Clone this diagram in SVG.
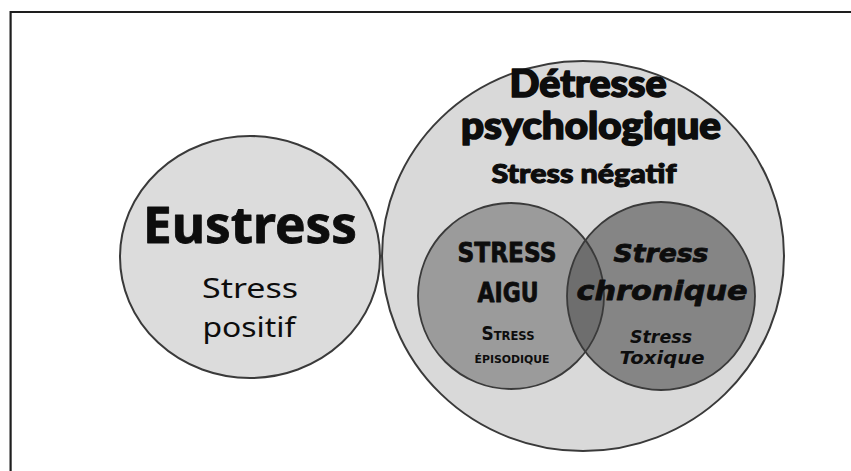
<svg xmlns="http://www.w3.org/2000/svg" width="851" height="471" viewBox="0 0 851 471">
  <style>
    .frame { stroke: #1e1e1e; stroke-width: 2.2; fill: none; }
    .outline { stroke: #3a3a3a; stroke-width: 2; }
    .thin { stroke: #3a3a3a; stroke-width: 1.8; fill: none; }
    text { fill: #0d0d0d; text-anchor: middle; }
    .comic { font-family: "Noto Sans", "DejaVu Sans", sans-serif; }
    .heavy { font-family: Lato, Roboto, "DejaVu Sans", sans-serif; font-weight: 900; stroke: #0d0d0d; stroke-width: 1.6; stroke-linejoin: round; }
    .bolder { stroke: #0d0d0d; stroke-width: 0.8; stroke-linejoin: round; }
    .caps { font-family: "DejaVu Sans", "Noto Sans", sans-serif; font-weight: bold; }
    .ital { font-family: "DejaVu Sans", "Noto Sans", sans-serif; font-weight: bold; font-style: italic; }
  </style>
  <defs>
    <clipPath id="clipLeft">
      <circle cx="511" cy="296" r="93"/>
    </clipPath>
  </defs>

  <rect width="851" height="471" fill="#ffffff"/>
  <g id="frame">
    <path class="frame" d="M10.6 471 V12 H851"/>
  </g>

  <g id="eustress">
    <ellipse class="outline" cx="250" cy="257" rx="130" ry="121" fill="#dcdcdc"/>
    <text class="comic bolder" x="250" y="243" font-size="50" font-weight="bold" textLength="214" lengthAdjust="spacingAndGlyphs">Eustress</text>
    <text class="comic" x="250" y="298" font-size="28" textLength="96" lengthAdjust="spacingAndGlyphs">Stress</text>
    <text class="comic" x="249" y="337" font-size="28" textLength="93" lengthAdjust="spacingAndGlyphs">positif</text>
  </g>

  <g id="detresse">
    <ellipse class="outline" cx="583" cy="256" rx="201" ry="195" fill="#d9d9d9"/>
    <text class="heavy" x="588" y="97" font-size="37" textLength="157" lengthAdjust="spacingAndGlyphs">Détresse</text>
    <text class="heavy" x="591" y="139" font-size="37" textLength="260" lengthAdjust="spacingAndGlyphs">psychologique</text>
    <text class="heavy" x="584" y="183" font-size="27" style="stroke-width:1.1" textLength="185" lengthAdjust="spacingAndGlyphs">Stress négatif</text>
  </g>

  <g id="stress-aigu">
    <circle cx="511" cy="296" r="93" fill="#9b9b9b"/>
  </g>
  <g id="stress-chronique">
    <circle cx="661" cy="296" r="94" fill="#858585"/>
    <circle cx="661" cy="296" r="94" fill="#6e6e6e" clip-path="url(#clipLeft)"/>
  </g>
  <g id="outlines">
    <circle class="thin" cx="511" cy="296" r="93"/>
    <circle class="thin" cx="661" cy="296" r="94"/>
  </g>

  <g id="stress-aigu-labels">
    <text class="caps bolder" x="507" y="262" font-size="26" textLength="99" lengthAdjust="spacingAndGlyphs">STRESS</text>
    <text class="caps bolder" x="508" y="302" font-size="26" textLength="61" lengthAdjust="spacingAndGlyphs">AIGU</text>
    <text class="caps" x="508" y="340" font-size="19" font-variant="small-caps" textLength="53" lengthAdjust="spacingAndGlyphs">Stress</text>
    <text class="caps" x="512" y="363" font-size="16" font-variant="small-caps" textLength="75" lengthAdjust="spacingAndGlyphs">épisodique</text>
  </g>

  <g id="stress-chronique-labels">
    <text class="ital bolder" x="661" y="262" font-size="25" textLength="95" lengthAdjust="spacingAndGlyphs">Stress</text>
    <text class="ital bolder" x="662" y="300" font-size="27" textLength="171" lengthAdjust="spacingAndGlyphs">chronique</text>
    <text class="ital" x="661" y="343" font-size="17" textLength="62" lengthAdjust="spacingAndGlyphs">Stress</text>
    <text class="ital" x="662" y="364" font-size="17" textLength="85" lengthAdjust="spacingAndGlyphs">Toxique</text>
  </g>
</svg>
